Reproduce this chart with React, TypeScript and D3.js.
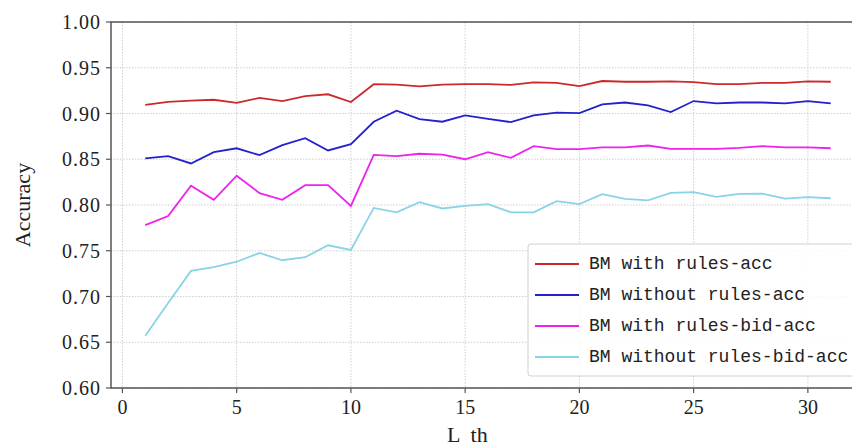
import React from "react";
import { scaleLinear, line, range } from "d3";

const lengths = range(1, 32);
const withRulesAcc = [0.9095, 0.9128, 0.914, 0.915, 0.9117, 0.917, 0.9136, 0.919, 0.921, 0.9125, 0.932, 0.9315, 0.9296, 0.9315, 0.932, 0.932, 0.9313, 0.934, 0.9335, 0.93, 0.9355, 0.9347, 0.9347, 0.935, 0.9343, 0.932, 0.932, 0.9335, 0.9335, 0.935, 0.9347];
const withoutRulesAcc = [0.851, 0.8534, 0.8454, 0.8578, 0.862, 0.8545, 0.8654, 0.873, 0.8596, 0.8665, 0.891, 0.903, 0.8939, 0.891, 0.898, 0.8942, 0.8906, 0.898, 0.901, 0.9005, 0.91, 0.912, 0.909, 0.9015, 0.9136, 0.911, 0.912, 0.912, 0.911, 0.9136, 0.911];
const withRulesBidAcc = [0.778, 0.788, 0.821, 0.8056, 0.832, 0.813, 0.8056, 0.8217, 0.8217, 0.799, 0.8548, 0.8534, 0.856, 0.855, 0.85, 0.8578, 0.8515, 0.8643, 0.861, 0.861, 0.863, 0.863, 0.865, 0.8614, 0.8614, 0.8614, 0.8625, 0.8643, 0.863, 0.863, 0.862];
const withoutRulesBidAcc = [0.657, 0.693, 0.728, 0.732, 0.738, 0.7476, 0.7396, 0.7429, 0.756, 0.7509, 0.7968, 0.792, 0.803, 0.7962, 0.799, 0.8009, 0.792, 0.792, 0.8042, 0.801, 0.8118, 0.8067, 0.805, 0.8133, 0.814, 0.8089, 0.8122, 0.8125, 0.807, 0.8085, 0.8074];

const seriesNames = ["BM with rules-acc", "BM without rules-acc", "BM with rules-bid-acc", "BM without rules-bid-acc"];
const seriesColors = ["#cc2a2a", "#2222cc", "#ee22ee", "#88d4e6"];
const xTicks = [0, 5, 10, 15, 20, 25, 30];
const yTicks = [0.6, 0.65, 0.7, 0.75, 0.8, 0.85, 0.9, 0.95, 1.0];

export default function App() {
  const width = 852;
  const height = 448;
  const margin = { left: 111, top: 22, bottom: 388, right: 865 };

  const x = scaleLinear().domain([-0.5, 32.5]).range([margin.left, margin.right]);
  const y = scaleLinear().domain([0.6, 1.0]).range([margin.bottom, margin.top]);

  const allSeries = [withRulesAcc, withoutRulesAcc, withRulesBidAcc, withoutRulesBidAcc];

  const lineGen = line<number>()
    .x((d, i) => x(lengths[i]))
    .y(d => y(d));

  const legendX = 528;
  const legendY = 244;
  const rowH = 31;

  return (
    <svg width={width} height={height} style={{ position: "absolute", left: 0, top: 0, background: "#fff" }}>
      {/* grid */}
      {xTicks.map(t => (
        <line key={"gx" + t} x1={x(t)} x2={x(t)} y1={margin.top} y2={margin.bottom}
          stroke="#c8c8c8" strokeWidth={0.9} strokeDasharray="1.5,1.5" />
      ))}
      {yTicks.map(t => (
        <line key={"gy" + t} x1={margin.left} x2={margin.right} y1={y(t)} y2={y(t)}
          stroke="#c8c8c8" strokeWidth={0.9} strokeDasharray="1.5,1.5" />
      ))}

      {/* lines */}
      {allSeries.map((s, i) => (
        <path key={i} d={lineGen(s) || ""} fill="none" stroke={seriesColors[i]} strokeWidth={1.8} />
      ))}

      {/* spines */}
      <rect x={margin.left} y={margin.top} width={margin.right - margin.left} height={margin.bottom - margin.top}
        fill="none" stroke="#555" strokeWidth={1.5} />

      {/* y ticks */}
      {yTicks.map(t => (
        <g key={"yt" + t}>
          <line x1={margin.left - 5} x2={margin.left} y1={y(t)} y2={y(t)} stroke="#555" strokeWidth={1.2} />
          <text x={margin.left - 10} y={y(t)} textAnchor="end" dominantBaseline="central"
            fontFamily="Liberation Serif" fontSize={20} letterSpacing={1} fill="#222">
            {t.toFixed(2)}
          </text>
        </g>
      ))}

      {/* x ticks */}
      {xTicks.map(t => (
        <g key={"xt" + t}>
          <line x1={x(t)} x2={x(t)} y1={margin.bottom} y2={margin.bottom + 5} stroke="#555" strokeWidth={1.2} />
          <text x={x(t)} y={margin.bottom + 19} textAnchor="middle" dominantBaseline="central"
            fontFamily="Liberation Serif" fontSize={20} fill="#222">
            {t}
          </text>
        </g>
      ))}

      {/* axis labels */}
      <text transform={`translate(30, ${(margin.top + margin.bottom) / 2}) rotate(-90)`} textAnchor="middle"
        fontFamily="Liberation Serif" fontSize={22} fill="#222">
        Accuracy
      </text>
      <text x={447} y={442} fontFamily="Liberation Serif" fontSize={22} fill="#222" xmlSpace="preserve">
        L  th
      </text>

      {/* legend */}
      <rect x={legendX} y={legendY} width={340} height={132} rx={3} fill="#fff" fillOpacity={0.85}
        stroke="#d0d0d0" strokeWidth={1} />
      {seriesNames.map((name, i) => (
        <g key={name}>
          <line x1={535} x2={579} y1={legendY + 20 + i * rowH} y2={legendY + 20 + i * rowH}
            stroke={seriesColors[i]} strokeWidth={2} />
          <text x={589} y={legendY + 20 + i * rowH} dominantBaseline="central"
            fontFamily="Liberation Mono" fontSize={18} fill="#222">
            {name}
          </text>
        </g>
      ))}
    </svg>
  );
}
